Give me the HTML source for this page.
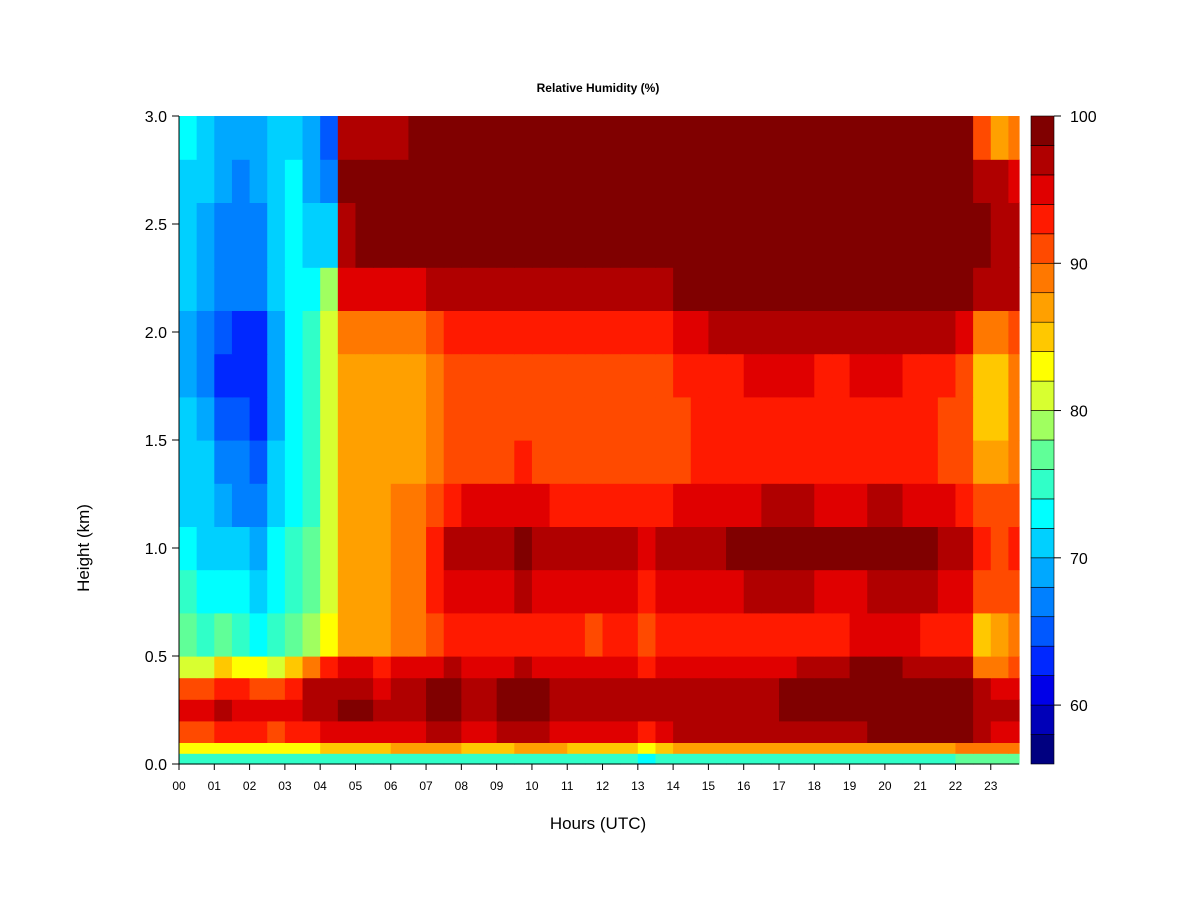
<!DOCTYPE html>
<html><head><meta charset="utf-8"><style>
body{margin:0;background:#fff;}
svg{display:block;font-family:"Liberation Sans",Arial,sans-serif;}
</style></head><body>
<svg id="chart" width="1200" height="900" viewBox="0 0 1200 900">
<rect width="1200" height="900" fill="#fff"/>
<text x="598" y="92" text-anchor="middle" font-size="12" font-weight="bold">Relative Humidity (%)</text>
<text x="598" y="829" text-anchor="middle" font-size="17">Hours (UTC)</text>
<text transform="translate(89,548) rotate(-90)" text-anchor="middle" font-size="17">Height (km)</text>
<g id="heat"></g>
<g id="axes"></g>
<g id="cbar"></g>
</svg>
<script>
const heightEdges=[0,0.05,0.1,0.2,0.3,0.4,0.5,0.7,0.9,1.1,1.3,1.5,1.7,1.9,2.1,2.3,2.6,2.8,3.0];
const hourStep=0.5;
const hourMax=23.8;
const rh=[
[74,74,74,74,74,74,74,74,74,74,74,74,75,75,75,75,75,75,75,75,75,75,75,75,75,74,72,74,75,75,75,75,75,75,75,75,75,74,75,75,75,75,75,75,76,76,77,77],
[82,82,82,82,82,82,82,83,84,84,85,85,86,86,86,86,84,85,85,86,86,86,85,85,85,84,82,85,86,86,86,86,86,86,86,86,86,86,87,87,87,87,87,87,88,88,88,88],
[90,91,92,92,92,91,92,93,94,95,95,94,95,95,96,96,94,95,96,96,96,95,95,95,95,94,93,95,96,96,96,96,96,96,96,96,96,97,97,98,98,98,98,98,98,96,95,95],
[94,94,96,95,95,94,95,97,97,98,98,96,97,97,98,99,97,97,98,98,98,97,97,97,97,97,96,97,97,97,97,97,97,97,98,98,98,99,99,100,100,100,99,100,99,97,97,96],
[90,90,92,92,90,90,93,96,96,97,97,95,97,97,98,98,97,97,98,98,98,97,97,97,97,97,96,96,96,96,96,96,96,97,98,98,98,99,99,100,100,99,99,99,99,96,95,95],
[80,80,84,82,82,80,84,88,92,94,94,92,94,94,95,96,94,94,95,96,95,94,94,94,94,94,93,94,94,94,94,94,94,94,95,96,96,97,98,98,98,97,97,96,96,88,88,90],
[76,74,76,74,73,74,76,78,82,86,86,86,88,88,90,92,92,92,92,93,92,92,92,91,92,92,91,92,92,92,92,92,93,93,93,93,92,93,94,94,94,94,93,93,92,84,86,88],
[74,72,72,72,70,72,74,76,80,86,86,86,88,88,92,94,95,95,95,96,94,94,94,94,94,94,93,94,94,94,94,95,96,96,96,96,95,95,95,96,96,96,96,95,94,90,90,91],
[72,71,70,70,69,72,74,76,80,86,86,86,88,88,93,96,97,97,97,98,97,96,96,96,96,96,95,96,97,97,97,98,98,98,99,99,98,98,98,99,99,98,98,97,96,92,91,92],
[71,70,68,67,66,70,72,74,80,86,86,86,88,88,91,93,94,94,94,95,94,93,93,93,93,93,92,93,94,94,94,95,95,96,96,96,95,95,95,96,96,95,95,94,93,90,90,91],
[70,70,67,66,65,70,72,74,80,86,86,86,86,87,88,90,91,91,91,92,91,90,90,90,91,91,90,91,91,92,92,92,92,92,93,93,92,92,92,93,93,92,92,91,90,86,86,88],
[70,68,65,64,63,68,72,74,80,86,86,86,86,86,88,90,91,91,91,91,91,90,90,90,91,91,90,90,91,92,92,92,93,93,93,93,92,92,93,93,93,92,92,91,90,85,85,88],
[68,66,63,62,62,68,72,74,80,86,86,86,86,86,88,90,91,91,91,91,91,91,91,91,91,91,91,91,92,92,92,93,94,94,94,94,93,93,94,94,94,93,93,92,91,85,85,88],
[68,67,64,63,63,68,72,74,80,88,88,88,88,88,90,92,93,93,93,93,93,93,93,93,93,93,93,93,94,95,96,97,97,97,97,97,96,96,97,97,97,96,96,96,95,88,88,91],
[70,69,67,66,66,70,72,72,78,94,95,95,95,95,96,97,97,97,97,97,97,97,97,97,97,97,97,97,98,98,99,99,99,99,99,99,99,99,99,99,99,99,99,99,98,96,96,96],
[70,69,66,66,66,70,72,70,70,97,98,98,98,98,99,99,99,99,99,99,99,99,99,99,99,99,99,99,99,99,99,99,99,99,99,99,99,99,99,99,99,99,99,99,99,98,97,97],
[71,70,68,67,68,70,72,68,66,98,98,98,98,99,99,99,99,99,99,99,99,99,99,99,99,99,99,99,99,99,99,99,99,99,99,99,99,99,99,99,99,99,99,99,99,97,96,95],
[72,70,68,68,69,70,70,68,64,97,97,97,97,98,98,99,99,99,99,99,99,99,99,99,99,99,99,99,99,99,99,99,99,99,99,99,99,99,99,99,99,99,99,99,98,90,86,88]
];
const levelColors=["#000080","#0000B8","#0000E8","#0028FF","#0058FF","#0080FF","#00A8FF","#00D0FF","#00FFFF","#30FFC8","#60FF98","#A0FF60","#D8FF30","#FFFF00","#FFC800","#FFA000","#FF7800","#FF4A00","#FF1A00","#E00000","#B00000","#800000"];
const levelMin=56, levelStep=2;
const yTicks=[0,0.5,1.0,1.5,2.0,2.5,3.0];
const yTickLabels=["0.0","0.5","1.0","1.5","2.0","2.5","3.0"];
const xTicks=[0,1,2,3,4,5,6,7,8,9,10,11,12,13,14,15,16,17,18,19,20,21,22,23];
const xTickLabels=["00","01","02","03","04","05","06","07","08","09","10","11","12","13","14","15","16","17","18","19","20","21","22","23"];
const cbTicks=[60,70,80,90,100];

const NS="http://www.w3.org/2000/svg";
const L=179,R=1019,T=116,B=764;
const xs=h=>L+(h/hourMax)*(R-L);
const ys=km=>B-(km/3)*(B-T);
function mk(tag,attrs,parent){const e=document.createElementNS(NS,tag);for(const k in attrs)e.setAttribute(k,attrs[k]);parent.appendChild(e);return e;}
function colorOf(v){let i=Math.floor((v-levelMin)/levelStep);if(i<0)i=0;if(i>=levelColors.length)i=levelColors.length-1;return levelColors[i];}

const heat=document.getElementById('heat');
for(let r=0;r<rh.length;r++){
  for(let c=0;c<rh[r].length;c++){
    const h0=c*hourStep,h1=Math.min((c+1)*hourStep,hourMax);
    const x0=xs(h0),x1=xs(h1),y0=ys(heightEdges[r+1]),y1=ys(heightEdges[r]);
    const e=mk('rect',{x:x0,y:y0,width:x1-x0+0.6,height:y1-y0+0.6,fill:colorOf(rh[r][c])},heat);
    
    
  }
}
const axes=document.getElementById('axes');
const yl=mk('line',{x1:L,y1:T,x2:L,y2:B,stroke:'#000','stroke-width':1},axes);


const xl=mk('line',{x1:L,y1:B,x2:R,y2:B,stroke:'#000','stroke-width':1},axes);


yTicks.forEach((v,i)=>{
  const y=ys(v);
  mk('line',{x1:L-7,y1:y,x2:L,y2:y,stroke:'#000'},axes);
  const t=mk('text',{x:L-12,y:y+6,'text-anchor':'end','font-size':16},axes);
  t.textContent=yTickLabels[i];
  
  
});
xTicks.forEach((v,i)=>{
  const x=xs(v);
  mk('line',{x1:x,y1:B,x2:x,y2:B+6,stroke:'#000'},axes);
  const t=mk('text',{x:x,y:B+26,'text-anchor':'middle','font-size':12},axes);
  t.textContent=xTickLabels[i];
  
  
});
const cb=document.getElementById('cbar');
const CL=1031,CR=1054;
const cbMax=levelMin+levelStep*levelColors.length;
const cy=v=>B-((v-levelMin)/(cbMax-levelMin))*(B-T);
levelColors.forEach((col,i)=>{
  const v0=levelMin+i*levelStep;
  const e=mk('rect',{x:CL,y:cy(v0+levelStep),width:CR-CL,height:cy(v0)-cy(v0+levelStep),fill:col,stroke:'#000','stroke-width':0.6},cb);
  
  
});
cbTicks.forEach(v=>{
  const y=cy(v);
  mk('line',{x1:CR,y1:y,x2:CR+7,y2:y,stroke:'#000'},cb);
  const t=mk('text',{x:CR+16,y:y+6,'font-size':16},cb);
  t.textContent=String(v);
  
  
});
</script>
</body></html>
